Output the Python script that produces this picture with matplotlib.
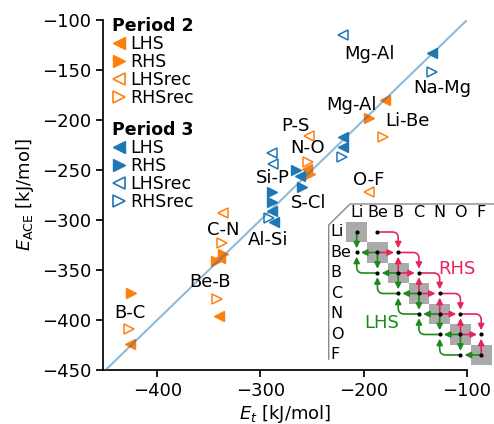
import matplotlib
matplotlib.use('Agg')
import matplotlib.pyplot as plt
from matplotlib.lines import Line2D
from matplotlib.patches import FancyArrowPatch, Rectangle

# Period 2 (orange)
p2_lhs_x = [-426, -340, -339, -255, -179]
p2_lhs_y = [-424, -396, -338, -249, -180]
p2_rhs_x = [-425, -343, -336, -252, -195]
p2_rhs_y = [-373, -341, -334, -254, -198]
p2_lhsrec_x = [-336, -253, -195]
p2_lhsrec_y = [-293, -216, -272]
p2_rhsrec_x = [-427, -342, -337, -254, -181]
p2_rhsrec_y = [-409, -379, -323, -242, -217]

# Period 3 (blue)
p3_lhs_x = [-134, -220, -220, -262, -289, -287]
p3_lhs_y = [-133, -217, -227, -256, -291, -302]
p3_rhs_x = [-266, -260, -289, -289]
p3_rhs_y = [-250, -267, -272, -282]
p3_lhsrec_x = [-220, -289, -288]
p3_lhsrec_y = [-115, -233, -244]
p3_rhsrec_x = [-134, -221, -292]
p3_rhsrec_y = [-152, -237, -298]

pair_labels = ['Mg-Al', 'Na-Mg', 'Mg-Al', 'Li-Be', 'P-S', 'N-O', 'O-F',
               'Si-P', 'S-Cl', 'Al-Si', 'C-N', 'Be-B', 'B-C']
label_x = [-194, -124, -212, -158, -266, -254, -195, -288, -253, -293, -336, -349, -426]
label_y = [-134, -168, -185, -201, -206, -228, -260, -258, -283, -320, -310, -362, -393]

diag = [-450, -100]
elements = ['Li', 'Be', 'B', 'C', 'N', 'O', 'F']

orange = '#ff7f0e'
blue = '#1f77b4'
red = '#e8245a'
green = '#1e8a1e'
fs = 13

fig = plt.figure(figsize=(4.94, 4.24), dpi=100)
ax = fig.add_axes([103 / 494, 54 / 424, 364 / 494, 350 / 424])


def draw_period(x_l, y_l, x_r, y_r, x_lr, y_lr, x_rr, y_rr, c):
    ax.plot(x_l, y_l, ls='none', marker='<', color=c, ms=7.5, zorder=2)
    ax.plot(x_r, y_r, ls='none', marker='>', color=c, ms=7.5, zorder=2)
    ax.plot(x_lr, y_lr, ls='none', marker='<', color=c, mfc='none', mew=1.1, ms=7.5, zorder=2)
    ax.plot(x_rr, y_rr, ls='none', marker='>', color=c, mfc='none', mew=1.1, ms=7.5, zorder=2)


draw_period(p2_lhs_x, p2_lhs_y, p2_rhs_x, p2_rhs_y,
            p2_lhsrec_x, p2_lhsrec_y, p2_rhsrec_x, p2_rhsrec_y, orange)
draw_period(p3_lhs_x, p3_lhs_y, p3_rhs_x, p3_rhs_y,
            p3_lhsrec_x, p3_lhsrec_y, p3_rhsrec_x, p3_rhsrec_y, blue)
ax.plot(diag, diag, color=blue, alpha=0.5, lw=1.5, zorder=3)

for s, x, y in zip(pair_labels, label_x, label_y):
    ax.text(x, y, s, ha='center', va='center', fontsize=fs)

ax.set_xlim(-452.5, -100)
ax.set_ylim(-450, -100)
ax.set_xticks([-400, -300, -200, -100])
ax.set_yticks(range(-450, -99, 50))
for side in ['top', 'right']:
    ax.spines[side].set_visible(False)
for side in ['left', 'bottom']:
    ax.spines[side].set_linewidth(1.25)
ax.tick_params(labelsize=fs, length=5, width=1.25)
ax.set_xlabel(r'$E_t$ [kJ/mol]', fontsize=fs, labelpad=2)
ax.set_ylabel(r'$E_{\mathrm{ACE}}$ [kJ/mol]', fontsize=fs)


def legend_handles(c):
    return [Line2D([], [], ls='none', marker='<', color=c, ms=8.5),
            Line2D([], [], ls='none', marker='>', color=c, ms=8.5),
            Line2D([], [], ls='none', marker='<', color=c, mfc='none', mew=1.2, ms=8.5),
            Line2D([], [], ls='none', marker='>', color=c, mfc='none', mew=1.2, ms=8.5)]


names = ['LHS', 'RHS', 'LHSrec', 'RHSrec']
leg_kw = dict(loc='upper left', bbox_transform=fig.transFigure, frameon=False,
              fontsize=12.5, title_fontproperties={'weight': 'bold', 'size': 12.5},
              alignment='left', handlelength=0.8, handletextpad=0.25,
              labelspacing=0.0, borderpad=0, borderaxespad=0)
leg1 = ax.legend(legend_handles(orange), names, title='Period 2',
                 bbox_to_anchor=(112 / 494, 1 - 17 / 424), **leg_kw)
ax.add_artist(leg1)
ax.legend(legend_handles(blue), names, title='Period 3',
          bbox_to_anchor=(112 / 494, 1 - 121 / 424), **leg_kw)

# inset: scheme of the element pairs
ax_in = fig.add_axes([328 / 494, 52 / 424, 166 / 494, 168 / 424])
ax_in.set_xlim(-1.383, 6.617)
ax_in.set_ylim(6.83, -1.366)
ax_in.axis('off')
ax_in.add_line(Line2D([6.617, -0.32, -1.35, -1.35], [-1.366, -1.366, -0.34, 6.2],
                      color='#888888', lw=1.0, clip_on=False))
n = len(elements)
for k in range(n):
    ax_in.add_patch(Rectangle((k - 0.5, k - 0.5), 1, 1, color='#aaaaaa', lw=0, zorder=1))
    ax_in.text(k, -0.93, elements[k], ha='center', va='center', fontsize=11.5)
    ax_in.text(-1.25, k, elements[k], ha='left', va='center', fontsize=11.5)


def arrow(a, b, c, style='arc3,rad=0'):
    ax_in.add_patch(FancyArrowPatch(a, b, arrowstyle='-|>', mutation_scale=9,
                                    color=c, lw=1.2, shrinkA=0, shrinkB=3,
                                    connectionstyle=style, zorder=2))


for i in range(1, n - 1):
    # RHS: target (row i, col i+1)
    arrow((i, i - 1), (i + 1, i), red, 'angle,angleA=0,angleB=90,rad=6')
    arrow((i, i), (i + 1, i), red)
    arrow((i + 1, i + 1), (i + 1, i), red)
for i in range(0, n - 1):
    # LHS: target (row i+1, col i)
    arrow((i, i), (i, i + 1), green)
    arrow((i + 1, i + 1), (i, i + 1), green)
    if i + 2 < n:
        arrow((i + 1, i + 2), (i, i + 1), green, 'angle,angleA=180,angleB=90,rad=6')

dot_x = [j for i in range(n) for j in range(n) if abs(i - j) <= 1]
dot_y = [i for i in range(n) for j in range(n) if abs(i - j) <= 1]
ax_in.plot(dot_x, dot_y, 'k.', ms=4, zorder=4)
ax_in.text(4.82, 1.8, 'RHS', color=red, ha='center', va='center', fontsize=fs)
ax_in.text(1.2, 4.45, 'LHS', color=green, ha='center', va='center', fontsize=fs)

fig.savefig('out.png', dpi=100)
